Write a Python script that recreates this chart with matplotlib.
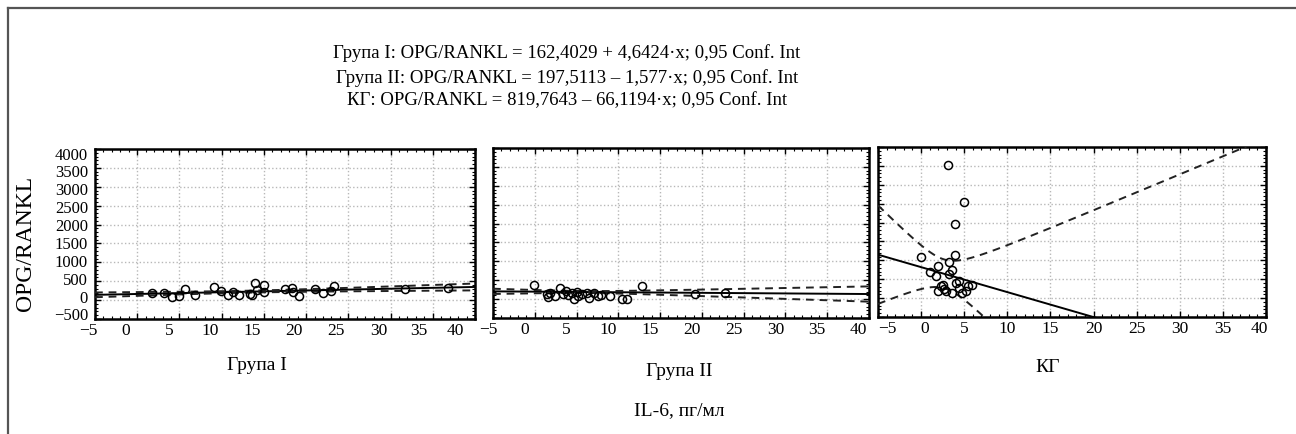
import numpy as np
import matplotlib
matplotlib.use("Agg")
import matplotlib.pyplot as plt
from matplotlib.lines import Line2D
from matplotlib.ticker import MultipleLocator, FuncFormatter
from matplotlib.transforms import ScaledTranslation

plt.rcParams['font.family'] = ['Liberation Serif', 'DejaVu Serif']
plt.rcParams['axes.unicode_minus'] = True

# ---------------- data ----------------
groups = ["Група I", "Група II", "КГ"]
title_lines = [
    "Група I: OPG/RANKL = 162,4029 + 4,6424·x; 0,95 Conf. Int",
    "Група II: OPG/RANKL = 197,5113 – 1,577·x; 0,95 Conf. Int",
    "КГ: OPG/RANKL = 819,7643 – 66,1194·x; 0,95 Conf. Int",
]
intercepts = [162.4029, 197.5113, 819.7643]
slopes = [4.6424, -1.577, -66.1194]

# confidence band parameters
ci_xmean = [13.0, 6.0, 2.7]         # x where the band is narrowest
ci_halfwidth = [25.0, 25.0, 380.0]  # half width at that x
ci_xvar = [60.0, 18.0, 5.5]         # spread of x values

g1_x = [1.75, 3.2, 4.1, 4.9, 5.6, 6.8, 9.1, 9.9, 10.7, 11.3, 12.0, 13.3, 13.6, 14.0,
        14.2, 15.0, 15.0, 17.5, 18.3, 18.5, 19.1, 21.0, 22.0, 23.0, 23.3, 31.7, 36.8]
g1_y = [193, 193, 88, 105, 307, 132, 351, 246, 132, 219, 132, 158, 132, 465,
        263, 395, 219, 281, 333, 219, 114, 281, 193, 246, 368, 281, 333]

g2_x = [-0.1, 1.5, 1.8, 1.6, 2.4, 3.0, 3.4, 3.7, 4.0, 4.4, 4.7, 5.0, 5.2, 5.6, 6.2,
        6.5, 7.1, 7.6, 7.9, 9.0, 10.4, 11.0, 12.8, 19.2, 22.8]
g2_y = [368, 123, 167, 53, 79, 281, 123, 210, 105, 167, -9, 193, 79, 123, 167,
        18, 167, 79, 105, 79, -9, -9, 342, 140, 167]

g3_x = [3.15, 5.0, 3.9, 3.96, 0.0, 2.0, 3.27, 1.08, 1.73, 3.27, 3.58, 2.5, 1.92, 2.88,
        3.58, 4.04, 4.42, 4.73, 5.46, 5.96, 4.42, 2.7, 2.3, 5.2]
g3_y = [3516, 2551, 1956, 1149, 1088, 860, 947, 694, 579, 650, 755, 360, 184, 184,
        124, 387, 273, 142, 316, 360, 447, 229, 316, 184]

xs_all = [g1_x, g2_x, g3_x]
ys_all = [g1_y, g2_y, g3_y]

x_ticks = [-5, 0, 5, 10, 15, 20, 25, 30, 35, 40]
y_ticks = [-500, 0, 500, 1000, 1500, 2000, 2500, 3000, 3500, 4000]

# ---------------- figure ----------------
W, H = 1296, 434
fig = plt.figure(figsize=(W / 100, H / 100), dpi=100)

# outer frame lines (top and left)
fig.add_artist(Line2D([8 / W, 1.0], [1 - 8 / H, 1 - 8 / H], color='#555555', lw=1.6))
fig.add_artist(Line2D([8 / W, 8 / W], [0.0, 1 - 8 / H], color='#555555', lw=1.6))

# title lines
for t, ypx in zip(title_lines, [53, 78, 101]):
    fig.text(567 / W, 1 - ypx / H, t, ha='center', va='center', fontsize=13.5)

# axes boxes in pixels: left, right, top, bottom
boxes = [(95, 475, 149, 319), (493, 869, 148, 318), (878, 1266, 147, 317)]
label_pos = [(257, 366), (679, 371), (1048, 368)]
# horizontal pixel offsets of the x tick labels (as placed in the reference)
xlab_shift = [
    [-7, -12, -10, -12, -12, -12, -12, -12, -14, -20],
    [-5, -10, -10, -10, -10, -10, -10, -10, -10, -11],
    [9, 4, 0, 0, 0, 0, 0, 0, 0, -7],
]

def fmt(v, pos):
    v = int(round(v))
    return ("\u2212" + str(abs(v))) if v < 0 else str(v)

xx = np.linspace(-5, 40, 600)
axes = []
for i in range(3):
    l, r, t, b = boxes[i]
    ax = fig.add_axes([l / W, 1 - b / H, (r - l) / W, (b - t) / H])
    axes.append(ax)
    ax.set_xlim(-5, 40)
    ax.set_ylim(-500, 4000)
    ax.set_xticks(x_ticks)
    ax.set_yticks(y_ticks)
    ax.xaxis.set_minor_locator(MultipleLocator(1))
    ax.yaxis.set_minor_locator(MultipleLocator(100))
    ax.xaxis.set_major_formatter(FuncFormatter(fmt))
    ax.yaxis.set_major_formatter(FuncFormatter(fmt))
    ax.tick_params(which='both', direction='in', top=True, right=True, color='black')
    ax.tick_params(which='major', length=4, width=1.0, pad=3)
    ax.tick_params(axis='x', which='major', labelsize=12.5)
    ax.tick_params(axis='y', which='major', labelsize=12, pad=5)
    ax.tick_params(which='minor', length=2, width=0.8)
    if i > 0:
        ax.tick_params(axis='y', labelleft=False)
    ax.grid(True, which='major', color='#b8b8b8', linestyle=':', linewidth=1.0)
    ax.set_axisbelow(True)
    for sp in ax.spines.values():
        sp.set_linewidth(1.8)

    yline = intercepts[i] + slopes[i] * xx
    hw = ci_halfwidth[i] * np.sqrt(1 + (xx - ci_xmean[i]) ** 2 / ci_xvar[i])
    ax.plot(xx, yline, color='black', lw=1.4, zorder=3)
    ax.plot(xx, yline + hw, color='#222222', lw=1.4, ls=(0, (4, 3)), zorder=3)
    ax.plot(xx, yline - hw, color='#222222', lw=1.4, ls=(0, (4, 3)), zorder=3)
    ax.plot(xs_all[i], ys_all[i], linestyle='none', marker='o', markersize=5.8,
            markerfacecolor='none', markeredgecolor='black', markeredgewidth=1.1, zorder=4)

    lx, ly = label_pos[i]
    fig.text(lx / W, 1 - ly / H, groups[i], ha='center', va='center', fontsize=14)

fig.canvas.draw()
for i, ax in enumerate(axes):
    for lab, dx in zip(ax.get_xticklabels(), xlab_shift[i]):
        lab.set_transform(lab.get_transform() + ScaledTranslation(dx / 100, 0, fig.dpi_scale_trans))
    if i == 0:
        # y tick labels sit slightly toward the middle, as in the reference
        for lab, v in zip(ax.get_yticklabels(), y_ticks):
            dy = -(v - 1750) / 2250 * 4.5 / 100
            lab.set_transform(lab.get_transform() + ScaledTranslation(0, dy, fig.dpi_scale_trans))

fig.text(26 / W, 1 - 243 / H, "OPG/RANKL", rotation=90, ha='center', va='center', fontsize=17)
fig.text(679 / W, 1 - 411 / H, "IL-6, пг/мл", ha='center', va='center', fontsize=14)

fig.savefig("out.png", dpi=100)
